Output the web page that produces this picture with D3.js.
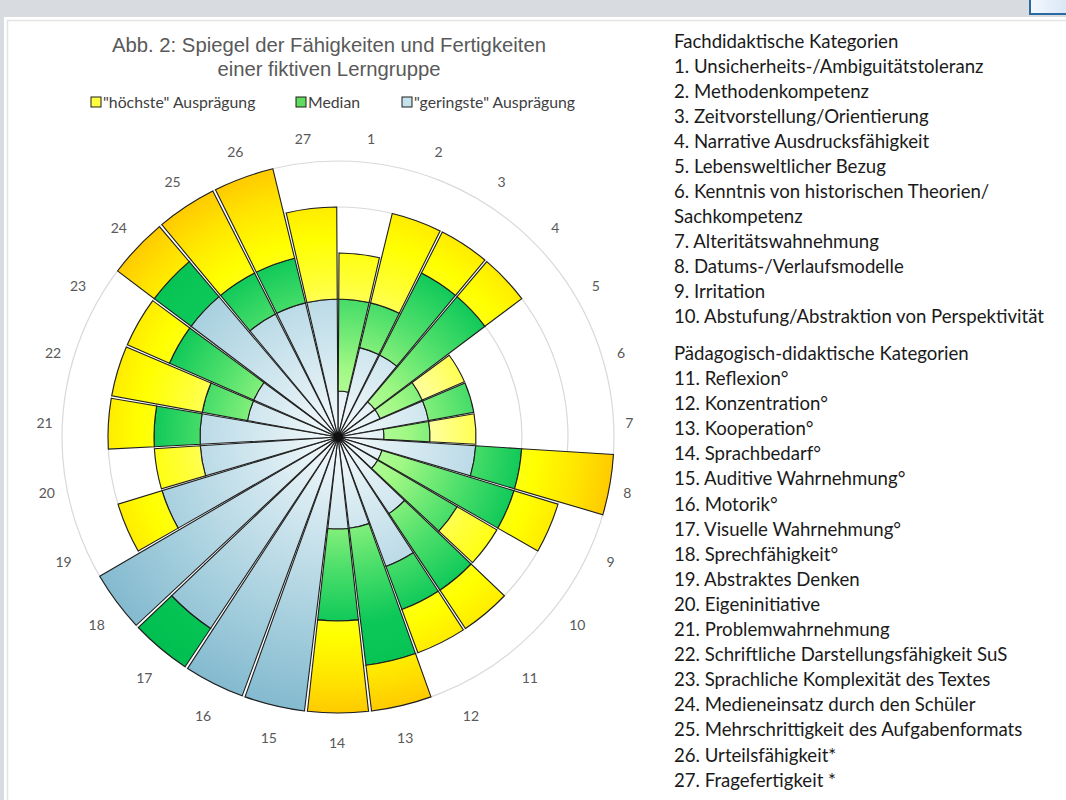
<!DOCTYPE html>
<html>
<head>
<meta charset="utf-8">
<script src="https://cdn.jsdelivr.net/npm/d3@7"></script>
<style>
body { margin: 0; background: #d8dbdf; }
svg { display: block; }
</style>
</head>
<body>
<svg id="chart" width="1066" height="800"></svg>
<script>
// categories 1..27, clockwise from the top
var categories = ["1","2","3","4","5","6","7","8","9","10","11","12","13","14","15","16","17","18","19","20","21","22","23","24","25","26","27"];

// stacked segment lengths (scale 0..6)
var geringste = [1,2,2,1,1,2,1,3,1,1,2,3,2,2,6,6,5,6,4,3,3,2,2,4,3,3,3];
var median    = [2,1,2,3,1,1,1,1,3,2,2,1,3,2,0,0,1,0,0,0,1,1,2,1,1,1,0];
var hoechste  = [1,2,1,1,1,0,1,2,1,1,1,1,1,2,0,0,0,0,1,1,1,2,1,1,2,2,2];

var legendNames = ['"höchste" Ausprägung', 'Median', '"geringste" Ausprägung'];
var ringTicks = [1,2,3,4,5,6];

var fachHeader = "Fachdidaktische Kategorien";
var fachList = [
    "1. Unsicherheits-/Ambiguitätstoleranz",
    "2. Methodenkompetenz",
    "3. Zeitvorstellung/Orientierung",
    "4. Narrative Ausdrucksfähigkeit",
    "5. Lebensweltlicher Bezug",
    "6. Kenntnis von historischen Theorien/",
    "Sachkompetenz",
    "7. Alteritätswahnehmung",
    "8. Datums-/Verlaufsmodelle",
    "9. Irritation",
    "10. Abstufung/Abstraktion von Perspektivität"
];
var paedHeader = "Pädagogisch-didaktische Kategorien";
var paedList = [
    "11. Reflexion°", "12. Konzentration°", "13. Kooperation°", "14. Sprachbedarf°",
    "15. Auditive Wahrnehmung°", "16. Motorik°", "17. Visuelle Wahrnehmung°",
    "18. Sprechfähigkeit°", "19. Abstraktes Denken", "20. Eigeninitiative",
    "21. Problemwahrnehmung", "22. Schriftliche Darstellungsfähigkeit SuS",
    "23. Sprachliche Komplexität des Textes", "24. Medieneinsatz durch den Schüler",
    "25. Mehrschrittigkeit des Aufgabenformats", "26. Urteilsfähigkeit*", "27. Fragefertigkeit *"
];

var svg = d3.select("#chart");
var defs = svg.append("defs");

// page frame
svg.append("rect").attr("x", 4).attr("y", 17).attr("width", 1062).attr("height", 783).attr("fill", "#ffffff");
svg.append("rect").attr("x", 7.5).attr("y", 20.5).attr("width", 1070).attr("height", 790)
    .attr("fill", "none").attr("stroke", "#e4e4e4").attr("stroke-width", 1.5);

// small button top right
var btnGrad = defs.append("linearGradient").attr("id", "btnGrad").attr("x1", 0).attr("x2", 1).attr("y1", 0).attr("y2", 0);
btnGrad.append("stop").attr("offset", 0).attr("stop-color", "#f4f8fd");
btnGrad.append("stop").attr("offset", 1).attr("stop-color", "#d6e6f6");
svg.append("rect").attr("x", 1030).attr("y", -4).attr("width", 40).attr("height", 18)
    .attr("fill", "url(#btnGrad)").attr("stroke", "#2a6aa0").attr("stroke-width", 2);

// gradients, centred on the chart
function radial(id, stops) {
    var g = defs.append("radialGradient").attr("id", id)
        .attr("gradientUnits", "userSpaceOnUse").attr("cx", 0).attr("cy", 0).attr("r", 276);
    stops.forEach(function (s) {
        g.append("stop").attr("offset", s[0]).attr("stop-color", s[1]);
    });
}
radial("gBlue", [[0, "#f6fbfc"], [0.35, "#cce4ed"], [0.7, "#a4cedd"], [1, "#84bacf"]]);
radial("gGreen", [[0, "#ccffb4"], [0.25, "#a0f884"], [0.48, "#4cde6a"], [0.68, "#0cc858"], [1, "#00bf50"]]);
radial("gYellow", [[0, "#ffffd8"], [0.35, "#ffff98"], [0.55, "#ffff3c"], [0.72, "#ffff00"], [0.88, "#ffe400"], [1, "#ffca00"]]);
var fills = { g: "url(#gBlue)", m: "url(#gGreen)", h: "url(#gYellow)" };

var cx = 338, cy = 437;
var g = svg.append("g").attr("transform", "translate(" + cx + "," + cy + ")");

var r = d3.scaleLinear().domain([0, 6]).range([0, 276]);
var x = d3.scaleBand().domain(categories).range([0, 2 * Math.PI]).padding(0);
var pad = 0.0055;

// grid rings
g.selectAll(".ring").data(ringTicks).enter().append("circle")
    .attr("r", function (d) { return r(d); })
    .attr("fill", "none").attr("stroke", "#d9d9d9").attr("stroke-width", 1.2);

var rows = categories.map(function (c, i) {
    return { cat: c, g: geringste[i], m: median[i], h: hoechste[i] };
});
var stacked = d3.stack().keys(["g", "m", "h"])(rows);

var arc = d3.arc()
    .innerRadius(function (d) { return r(d[0]); })
    .outerRadius(function (d) { return r(d[1]); })
    .startAngle(function (d) { return x(d.data.cat) + pad; })
    .endAngle(function (d) { return x(d.data.cat) + x.bandwidth() - pad; });

stacked.forEach(function (layer) {
    g.selectAll(".seg-" + layer.key)
        .data(layer.filter(function (d) { return d[1] > d[0]; }))
        .enter().append("path")
        .attr("d", arc)
        .attr("fill", fills[layer.key])
        .attr("stroke", "#1e1e1e")
        .attr("stroke-width", 1.1)
        .attr("stroke-linejoin", "miter");
});

g.append("circle").attr("r", 4.5).attr("fill", "#111");

// category labels, placed just outside the outer ring
function mid(d) { return x(d) + x.bandwidth() / 2; }
function labelPos(d) {
    var a = mid(d), boost = 8 * Math.abs(Math.sin(2 * a));
    return [-1 + Math.sin(a) * (292 + boost), 3 - Math.cos(a) * (302 + boost)];
}
g.selectAll(".lbl").data(categories).enter().append("text")
    .attr("x", function (d) { return labelPos(d)[0]; })
    .attr("y", function (d) { return labelPos(d)[1]; })
    .attr("text-anchor", "middle").attr("dominant-baseline", "central")
    .attr("font-family", "Lato, 'Open Sans', sans-serif").attr("font-size", 14)
    .attr("fill", "#595959")
    .text(function (d) { return d; });

// title
var title = svg.append("text").attr("text-anchor", "middle")
    .attr("font-family", "'Liberation Sans', Arial, sans-serif").attr("font-size", 20.3)
    .attr("fill", "#595959");
title.append("tspan").attr("x", 329).attr("y", 52).text("Abb. 2: Spiegel der Fähigkeiten und Fertigkeiten");
title.append("tspan").attr("x", 329).attr("y", 76).text("einer fiktiven Lerngruppe");

// legend
var legendX = [91, 296, 402];
var legendFill = ["#ffff40", "#5fdc5f", "#c6e2ec"];
var leg = svg.selectAll(".leg").data(legendNames).enter().append("g")
    .attr("transform", function (d, i) { return "translate(" + legendX[i] + ",97)"; });
leg.append("rect").attr("width", 10).attr("height", 10)
    .attr("fill", function (d, i) { return legendFill[i]; })
    .attr("stroke", "#1e1e1e").attr("stroke-width", 1);
leg.append("text").attr("x", 12).attr("y", 10.5)
    .attr("font-family", "Lato, 'Open Sans', sans-serif").attr("font-size", 15.8)
    .attr("fill", "#404040")
    .text(function (d) { return d; });

// category list on the right
var list = svg.append("g")
    .attr("font-family", "Lato, 'Open Sans', sans-serif").attr("font-size", 18.6).attr("fill", "#1a1a1a");
list.append("text").attr("x", 674).attr("y", 48).text(fachHeader);
list.selectAll(".fach").data(fachList).enter().append("text")
    .attr("x", 674).attr("y", function (d, i) { return 73 + i * 25; })
    .text(function (d) { return d; });
list.append("text").attr("x", 674).attr("y", 360).text(paedHeader);
list.selectAll(".paed").data(paedList).enter().append("text")
    .attr("x", 674).attr("y", function (d, i) { return 385 + i * 25.1; })
    .text(function (d) { return d; });
</script>
</body>
</html>
